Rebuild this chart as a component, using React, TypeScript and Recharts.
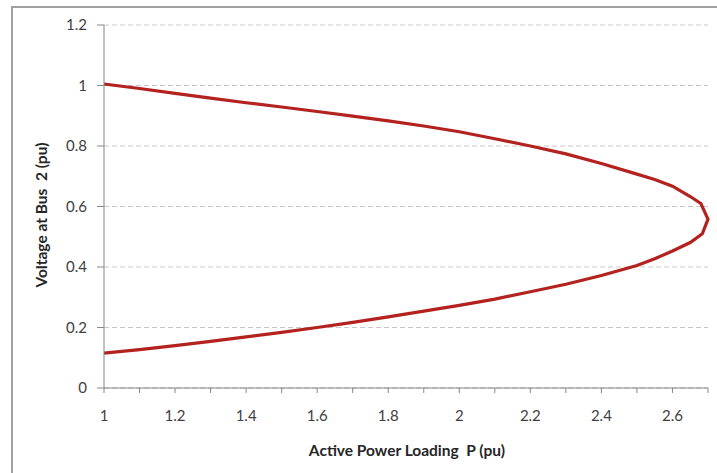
import { CartesianGrid, Label, Line, LineChart, XAxis, YAxis } from "recharts"

// upper (stable) branch, P rising towards the nose
const upperP = [1.0, 1.1, 1.2, 1.3, 1.4, 1.5, 1.6, 1.7, 1.8, 1.9, 2.0, 2.1, 2.2, 2.3, 2.4, 2.5, 2.55, 2.6, 2.65, 2.68]
const upperV = [1.005, 0.99, 0.974, 0.958, 0.943, 0.929, 0.914, 0.899, 0.883, 0.866, 0.847, 0.824, 0.8, 0.774, 0.742, 0.707, 0.689, 0.667, 0.633, 0.61]

// nose point
const noseP = 2.7
const noseV = 0.558

// lower (unstable) branch, P falling back from the nose
const lowerP = [2.684, 2.65, 2.6, 2.55, 2.5, 2.4, 2.3, 2.2, 2.1, 2.0, 1.9, 1.8, 1.7, 1.6, 1.5, 1.4, 1.3, 1.2, 1.1, 1.0]
const lowerV = [0.51, 0.481, 0.453, 0.427, 0.405, 0.372, 0.343, 0.318, 0.294, 0.273, 0.254, 0.235, 0.217, 0.2, 0.184, 0.169, 0.154, 0.14, 0.127, 0.115]

const xTicks = [1, 1.1, 1.2, 1.3, 1.4, 1.5, 1.6, 1.7, 1.8, 1.9, 2, 2.1, 2.2, 2.3, 2.4, 2.5, 2.6, 2.7]
const xTickLabels = ["1", "1.2", "1.4", "1.6", "1.8", "2", "2.2", "2.4", "2.6"]
const yTicks = [0, 0.2, 0.4, 0.6, 0.8, 1, 1.2]

const data = [
  ...upperP.map((p, i) => ({ p, v: upperV[i] })),
  { p: noseP, v: noseV },
  ...lowerP.map((p, i) => ({ p, v: lowerV[i] })),
]

const FONT = "Lato, 'Open Sans', sans-serif"
const AXIS = "#868686"

export default function App() {
  return (
    <div
      style={{
        position: "absolute",
        left: 0,
        top: 0,
        width: 717,
        height: 473,
        overflow: "hidden",
        background: "#fff",
      }}
    >
      <div
        style={{
          position: "absolute",
          left: 11,
          top: 6,
          width: 800,
          height: 600,
          border: "2px solid #a0a0a0",
        }}
      />
      <div style={{ position: "absolute", left: 0, top: 0 }}>
        <LineChart width={717} height={473} data={data} margin={{ top: 25, right: 9, bottom: 0, left: 44 }}>
          <CartesianGrid vertical={false} stroke="#c8c8c8" strokeDasharray="5 3" />
          <XAxis
            type="number"
            dataKey="p"
            domain={[1, 2.7]}
            ticks={xTicks}
            interval={0}
            height={85}
            tickSize={5}
            tickMargin={17}
            stroke={AXIS}
            tick={{ fontSize: 15, fill: "#404040", fontFamily: FONT }}
            tickFormatter={(v: number) => {
              const s = String(Number(v.toFixed(1)))
              return xTickLabels.includes(s) ? s : ""
            }}
          >
            <Label
              content={() => (
                <text x={407} y={456} textAnchor="middle" fontFamily={FONT} fontWeight={700} fontSize={15.5} fill="#262626">
                  {"Active Power Loading\u00a0 P (pu)"}
                </text>
              )}
            />
          </XAxis>
          <YAxis
            type="number"
            domain={[0, 1.2]}
            ticks={yTicks}
            width={60}
            tickSize={7}
            tickMargin={10}
            stroke={AXIS}
            tick={{ fontSize: 15, fill: "#404040", fontFamily: FONT }}
          >
            <Label
              content={() => (
                <text
                  x={47}
                  y={215}
                  transform="rotate(-90 47 215)"
                  textAnchor="middle"
                  fontFamily={FONT}
                  fontWeight={700}
                  fontSize={15.5}
                  fill="#262626"
                >
                  {"Voltage at Bus\u00a0 2 (pu)"}
                </text>
              )}
            />
          </YAxis>
          <Line
            dataKey="v"
            type="linear"
            stroke="#B3221F"
            strokeWidth={3.2}
            dot={false}
            activeDot={false}
            isAnimationActive={false}
          />
        </LineChart>
      </div>
    </div>
  )
}
